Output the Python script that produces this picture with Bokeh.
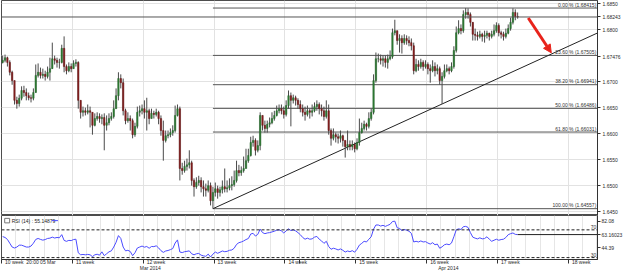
import numpy as np
from bokeh.plotting import figure
from bokeh.layouts import column
from bokeh.models import (Range1d, FixedTicker, Span, Arrow, NormalHead,
                          PrintfTickFormatter)
from bokeh.embed import file_html
from bokeh.resources import INLINE
from bokeh.core.properties import value

# ---------------- data (H4 candles) ----------------
first_open = 1.6737
close = [
    1.6741, 1.6746, 1.6737, 1.6718, 1.6702, 1.6664, 1.6658, 1.6668, 1.6683, 1.6679,
    1.6673, 1.6669, 1.6668, 1.6679, 1.6712, 1.6718, 1.6712, 1.6714, 1.6710, 1.6718,
    1.6725, 1.6744, 1.6741, 1.6737, 1.6737, 1.6764, 1.6729, 1.6721, 1.6729, 1.6725,
    1.6735, 1.6737, 1.6664, 1.6641, 1.6644, 1.6641, 1.6644, 1.6641, 1.6616, 1.6629,
    1.6633, 1.6629, 1.6631, 1.6616, 1.6621, 1.6629, 1.6633, 1.6648, 1.6673, 1.6706,
    1.6698, 1.6644, 1.6625, 1.6629, 1.6625, 1.6598, 1.6614, 1.6641, 1.6644, 1.6648,
    1.6641, 1.6644, 1.6629, 1.6639, 1.6637, 1.6641, 1.6629, 1.6606, 1.6587, 1.6596,
    1.6598, 1.6602, 1.6606, 1.6635, 1.6648, 1.6533, 1.6529, 1.6537, 1.6540, 1.6544,
    1.6510, 1.6498, 1.6506, 1.6510, 1.6498, 1.6494, 1.6491, 1.6500, 1.6471, 1.6487,
    1.6494, 1.6487, 1.6492, 1.6498, 1.6494, 1.6496, 1.6500, 1.6502, 1.6510, 1.6529,
    1.6525, 1.6529, 1.6533, 1.6548, 1.6558, 1.6583, 1.6587, 1.6568, 1.6577, 1.6635,
    1.6616, 1.6610, 1.6618, 1.6621, 1.6629, 1.6635, 1.6644, 1.6648, 1.6644, 1.6637,
    1.6654, 1.6673, 1.6664, 1.6669, 1.6664, 1.6656, 1.6648, 1.6641, 1.6637, 1.6644,
    1.6641, 1.6644, 1.6652, 1.6656, 1.6648, 1.6644, 1.6633, 1.6644, 1.6606, 1.6591,
    1.6598, 1.6594, 1.6591, 1.6596, 1.6587, 1.6575, 1.6579, 1.6575, 1.6579, 1.6571,
    1.6583, 1.6602, 1.6610, 1.6618, 1.6614, 1.6629, 1.6641, 1.6702, 1.6744, 1.6744,
    1.6741, 1.6744, 1.6737, 1.6744, 1.6748, 1.6794, 1.6798, 1.6779, 1.6783, 1.6775,
    1.6783, 1.6779, 1.6775, 1.6769, 1.6721, 1.6733, 1.6729, 1.6737, 1.6729, 1.6733,
    1.6725, 1.6721, 1.6729, 1.6721, 1.6725, 1.6702, 1.6710, 1.6721, 1.6725, 1.6721,
    1.6729, 1.6760, 1.6794, 1.6802, 1.6798, 1.6829, 1.6833, 1.6829, 1.6814, 1.6791,
    1.6789, 1.6787, 1.6791, 1.6787, 1.6789, 1.6793, 1.6787, 1.6791, 1.6798, 1.6808,
    1.6794, 1.6791, 1.6787, 1.6793, 1.6802, 1.6814, 1.6833, 1.6825, 1.68243,
]
high = [
    1.6750, 1.6752, 1.6748, 1.6741, 1.6721, 1.6702, 1.6671, 1.6675, 1.6691, 1.6692,
    1.6687, 1.6679, 1.6675, 1.6687, 1.6733, 1.6735, 1.6727, 1.6725, 1.6721, 1.6729,
    1.6746, 1.6775, 1.6750, 1.6746, 1.6744, 1.6771, 1.6787, 1.6733, 1.6737, 1.6735,
    1.6741, 1.6743, 1.6739, 1.6664, 1.6652, 1.6650, 1.6656, 1.6652, 1.6641, 1.6639,
    1.6641, 1.6639, 1.6637, 1.6639, 1.6635, 1.6639, 1.6641, 1.6664, 1.6687, 1.6718,
    1.6714, 1.6706, 1.6648, 1.6641, 1.6635, 1.6629, 1.6621, 1.6652, 1.6654, 1.6656,
    1.6664, 1.6669, 1.6648, 1.6648, 1.6644, 1.6648, 1.6644, 1.6635, 1.6625, 1.6606,
    1.6606, 1.6610, 1.6616, 1.6654, 1.6656, 1.6652, 1.6544, 1.6548, 1.6552, 1.6568,
    1.6548, 1.6514, 1.6516, 1.6519, 1.6516, 1.6510, 1.6504, 1.6510, 1.6506, 1.6498,
    1.6506, 1.6500, 1.6498, 1.6510, 1.6533, 1.6510, 1.6514, 1.6518, 1.6529, 1.6548,
    1.6540, 1.6537, 1.6556, 1.6571, 1.6571, 1.6594, 1.6596, 1.6591, 1.6587, 1.6641,
    1.6635, 1.6625, 1.6625, 1.6631, 1.6641, 1.6644, 1.6654, 1.6656, 1.6656, 1.6652,
    1.6664, 1.6683, 1.6679, 1.6675, 1.6673, 1.6668, 1.6664, 1.6656, 1.6652, 1.6654,
    1.6648, 1.6656, 1.6660, 1.6664, 1.6660, 1.6656, 1.6652, 1.6664, 1.6656, 1.6610,
    1.6610, 1.6602, 1.6600, 1.6606, 1.6598, 1.6587, 1.6606, 1.6587, 1.6587, 1.6583,
    1.6591, 1.6629, 1.6621, 1.6625, 1.6621, 1.6641, 1.6648, 1.6714, 1.6756, 1.6754,
    1.6752, 1.6750, 1.6750, 1.6752, 1.6760, 1.6802, 1.6819, 1.6798, 1.6791, 1.6789,
    1.6791, 1.6789, 1.6787, 1.6783, 1.6775, 1.6744, 1.6741, 1.6744, 1.6741, 1.6741,
    1.6737, 1.6733, 1.6741, 1.6737, 1.6733, 1.6729, 1.6718, 1.6733, 1.6733, 1.6729,
    1.6737, 1.6768, 1.6806, 1.6818, 1.6810, 1.6837, 1.68415, 1.6841, 1.6833, 1.6814,
    1.6802, 1.6796, 1.6798, 1.6794, 1.6798, 1.6798, 1.6794, 1.6798, 1.6810, 1.6814,
    1.6812, 1.6798, 1.6796, 1.6802, 1.6810, 1.6823, 1.6841, 1.6839, 1.6833,
]
low = [
    1.6735, 1.6737, 1.6729, 1.6712, 1.6694, 1.6656, 1.6648, 1.6652, 1.6664, 1.6671,
    1.6664, 1.6664, 1.6660, 1.6664, 1.6679, 1.6708, 1.6706, 1.6706, 1.6702, 1.6706,
    1.6702, 1.6725, 1.6733, 1.6727, 1.6725, 1.6735, 1.6718, 1.6714, 1.6718, 1.6718,
    1.6727, 1.6729, 1.6648, 1.6629, 1.6633, 1.6635, 1.6637, 1.6612, 1.6598, 1.6614,
    1.6625, 1.6621, 1.6618, 1.6568, 1.6606, 1.6616, 1.6625, 1.6629, 1.6648, 1.6664,
    1.6687, 1.6635, 1.6618, 1.6621, 1.6606, 1.6591, 1.6594, 1.6610, 1.6633, 1.6637,
    1.6629, 1.6606, 1.6618, 1.6629, 1.6629, 1.6633, 1.6618, 1.6596, 1.6548, 1.6583,
    1.6591, 1.6593, 1.6596, 1.6602, 1.6633, 1.6510, 1.6521, 1.6525, 1.6529, 1.6533,
    1.6500, 1.6479, 1.6494, 1.6500, 1.6487, 1.6479, 1.6479, 1.6487, 1.6462, 1.64557,
    1.6479, 1.6475, 1.6479, 1.6485, 1.6487, 1.6487, 1.6491, 1.6491, 1.6498, 1.6506,
    1.6518, 1.6519, 1.6525, 1.6533, 1.6544, 1.6556, 1.6575, 1.6558, 1.6564, 1.6568,
    1.6606, 1.6602, 1.6602, 1.6612, 1.6618, 1.6625, 1.6633, 1.6639, 1.6637, 1.6629,
    1.6633, 1.6648, 1.6614, 1.6658, 1.6654, 1.6648, 1.6641, 1.6633, 1.6625, 1.6633,
    1.6629, 1.6633, 1.6641, 1.6644, 1.6637, 1.6633, 1.6625, 1.6629, 1.6598, 1.6577,
    1.6587, 1.6583, 1.6581, 1.6583, 1.6575, 1.6554, 1.6568, 1.6568, 1.6568, 1.6564,
    1.6568, 1.6577, 1.6600, 1.6606, 1.6606, 1.6610, 1.6625, 1.6637, 1.6698, 1.6737,
    1.6733, 1.6729, 1.6727, 1.6725, 1.6741, 1.6744, 1.6789, 1.6771, 1.6756, 1.6754,
    1.6771, 1.6771, 1.6768, 1.6760, 1.6714, 1.6718, 1.6721, 1.6725, 1.6721, 1.6725,
    1.6714, 1.6698, 1.6718, 1.6710, 1.6714, 1.6694, 1.6657, 1.6706, 1.6718, 1.6714,
    1.6718, 1.6725, 1.6756, 1.6791, 1.6791, 1.6794, 1.6821, 1.6821, 1.6806, 1.6779,
    1.6779, 1.6779, 1.6783, 1.6777, 1.6775, 1.6783, 1.6779, 1.6783, 1.6787, 1.6794,
    1.6787, 1.6783, 1.6779, 1.6783, 1.6791, 1.6798, 1.6810, 1.6818, 1.6821,
]
rsi = [
    60.3, 59.0, 56.2, 50.7, 45.2, 43.8, 45.2, 47.9, 47.9, 46.6,
    45.2, 45.2, 46.6, 50.7, 56.2, 57.6, 56.2, 55.15, 56.0, 57.6,
    58.0, 59.5, 58.2, 59.0, 58.6, 63.1, 54.8, 53.4, 54.8, 54.5,
    56.0, 56.5, 36.9, 34.1, 34.5, 34.0, 34.6, 34.0, 31.4, 34.0,
    34.8, 33.5, 38.3, 32.8, 35.5, 38.3, 39.7, 45.2, 52.1, 61.7,
    57.6, 45.2, 39.7, 40.5, 38.8, 32.8, 36.9, 43.8, 45.2, 46.6,
    45.0, 46.0, 43.5, 46.0, 45.8, 47.0, 44.0, 40.0, 37.5, 39.5,
    40.2, 41.5, 43.0, 51.0, 55.5, 38.0, 37.2, 38.5, 39.0, 39.7,
    35.5, 34.0, 35.5, 36.0, 33.5, 32.5, 31.8, 35.0, 30.8, 35.0,
    38.0, 36.2, 37.8, 39.5, 38.5, 39.0, 40.5, 41.0, 43.5, 49.0,
    51.5, 52.5, 54.0, 56.0, 57.5, 64.0, 65.0, 61.0, 63.5, 71.0,
    66.0, 64.5, 65.5, 66.0, 67.0, 68.0, 69.5, 70.0, 68.5, 65.5,
    68.5, 71.5, 69.0, 70.0, 68.5, 66.0, 63.0, 59.0, 56.5, 58.0,
    56.5, 57.0, 59.5, 60.5, 56.5, 54.0, 50.5, 53.5, 46.0, 42.0,
    43.5, 42.5, 41.0, 42.5, 40.5, 38.0, 39.5, 38.5, 40.0, 37.8,
    42.0, 48.0, 50.5, 53.5, 52.5, 56.5, 60.0, 71.0, 77.0, 77.0,
    75.5, 76.5, 75.0, 76.5, 78.0, 82.0, 82.5, 73.0, 72.0, 69.0,
    70.5, 69.5, 68.0, 65.0, 52.5, 53.5, 52.5, 54.0, 52.5, 53.0,
    51.0, 49.5, 51.5, 48.5, 49.5, 43.5, 45.5, 48.5, 49.5, 48.5,
    51.0, 60.0, 70.0, 71.5, 70.5, 74.5, 75.0, 73.5, 66.0, 59.5,
    58.0, 57.0, 58.5, 57.0, 57.5, 60.0, 56.5, 53.5, 55.0, 56.5,
    55.0, 56.0, 56.5, 59.0, 63.0, 64.5, 65.5, 63.5, 63.16,
]
week_labels = ["10 week", "11 week", "12 week", "13 week", "14 week",
               "15 week", "16 week", "17 week", "18 week"]
month_labels = ["Mar 2014", "Apr 2014"]
march_candles = 126
candles_per_week = 30
candles_per_day = 6
price_ticks = [1.645, 1.650, 1.655, 1.660, 1.665, 1.670, 1.675, 1.680, 1.685]
hidden_price_tick = 1.675          # covered by the marker box in the original
fib_pcts = [0.0, 23.6, 38.2, 50.0, 61.8, 100.0]
last_price = 1.68243
marker_price = 1.67476
trend_anchor_idx = [89, 186]
rsi_ticks = [44.39, 82.08]
rsi_levels = [70, 30]
rsi_now = 63.16023
rsi_cross = 55.14879
cross_idx = 17
cross_label = "20:00 05 Mar"

# ---------------- derived ----------------
FONTNAME = "Liberation Sans"
FONT = value(FONTNAME)
FS = "5px"
close_a = np.array(close)
open_a = np.concatenate([[first_open], close_a[:-1]])
high_a = np.maximum(np.array(high), np.maximum(open_a, close_a))
low_a = np.minimum(np.array(low), np.minimum(open_a, close_a))
N = len(close_a)
idx = np.arange(N)

X0, X1 = -0.5, 251.8
PY0, PY1 = 1.64426, 1.6856
RY0, RY1 = 27.24, 90.69
week_bounds = [X0 + candles_per_week * k for k in range(len(week_labels))]
day_bounds = [float(v) for v in np.arange(X0, X1, candles_per_day)]
month_edges = [X0, X0 + march_candles, X1]


def style_axis(ax):
    ax.major_label_text_font_size = FS
    ax.major_label_text_font = FONTNAME
    ax.major_label_text_color = "#2a2a2a"
    ax.major_tick_in = 0
    ax.minor_tick_in = 0
    ax.minor_tick_out = 0
    ax.axis_line_color = "#333333"
    ax.major_tick_line_color = "#333333"
    ax.minor_tick_line_color = "#333333"


# ---------------- main price panel ----------------
p = figure(width=625, height=215, x_range=Range1d(X0, X1), y_range=Range1d(PY0, PY1),
           x_axis_location=None, y_axis_location="right", toolbar_location=None,
           output_backend="svg", min_border_left=1, min_border_right=26,
           min_border_top=0, min_border_bottom=0, outline_line_color="#4d4d4d",
           background_fill_color="white", border_fill_color="white")
p.xgrid.ticker = FixedTicker(ticks=week_bounds)
p.xgrid.grid_line_color = "#e2e2e2"
p.ygrid.ticker = FixedTicker(ticks=price_ticks)
p.ygrid.grid_line_color = "#e2e2e2"

axis_ticks = [t for t in price_ticks if t != hidden_price_tick] + [last_price, marker_price]
ya = p.yaxis[0]
style_axis(ya)
ya.ticker = FixedTicker(ticks=axis_ticks)
ya.formatter = PrintfTickFormatter(format="%.4f")
ya.major_label_overrides = {last_price: f"{last_price:.5f}", marker_price: f"{marker_price:.5f}"}
ya.major_tick_out = 3
ya.major_label_standoff = 2

# current price line
p.add_layout(Span(location=last_price, dimension="width", line_color="#555555", line_width=1))

# fibonacci retracement
lo_i = int(np.argmin(low_a))
hi_i = int(np.argmax(high_a))
swing_low = low_a[lo_i]
swing_high = high_a[hi_i]
rng = swing_high - swing_low
levels = [swing_high - f / 100.0 * rng for f in fib_pcts]
p.segment(x0=[lo_i] * len(levels), y0=levels, x1=[X1] * len(levels), y1=levels,
          line_color="#555555", line_width=1)
p.text(x=[X1 - 0.5] * len(levels), y=levels,
       text=[f"{f:.2f} % ({lv:.5f})" for f, lv in zip(fib_pcts, levels)],
       text_align="right", text_baseline="bottom", text_font_size=FS,
       text_font=FONT, text_color="#333333", y_offset=-0.5)

# trendline
ta, tb = trend_anchor_idx
slope = (low_a[tb] - low_a[ta]) / (tb - ta)
p.line([ta, X1], [low_a[ta], low_a[ta] + slope * (X1 - ta)], line_color="#222222", line_width=1)

# candles
bull = close_a >= open_a
p.segment(idx, high_a, idx, low_a, line_color="#4a4a4a", line_width=1)
p.vbar(x=idx[bull], width=0.6, top=close_a[bull], bottom=open_a[bull],
       fill_color="#2f7f34", line_color="#24622a", line_width=0.5)
p.vbar(x=idx[~bull], width=0.6, top=open_a[~bull], bottom=close_a[~bull],
       fill_color="#8a2020", line_color="#621616", line_width=0.5)

# red arrow toward trendline / 23.6% intersection
x_int = ta + (levels[1] - low_a[ta]) / slope
RED = "#e8231b"
p.add_layout(Arrow(end=NormalHead(size=8, fill_color=RED, line_color=RED),
                   x_start=N - 1 + 4.5, y_start=last_price - 0.0002,
                   x_end=x_int + 1.2, y_end=levels[1] + 0.0005,
                   line_color=RED, line_width=3))

# ---------------- RSI panel ----------------
r = figure(width=625, height=58, x_range=p.x_range, y_range=Range1d(RY0, RY1),
           x_axis_location="below", y_axis_location="right", toolbar_location=None,
           output_backend="svg", min_border_left=1, min_border_right=26,
           min_border_top=0, min_border_bottom=11, outline_line_color="#4d4d4d",
           background_fill_color="white", border_fill_color="white")
r.ygrid.visible = False
r.xgrid.ticker = FixedTicker(ticks=day_bounds)
r.xgrid.grid_line_color = "#e6e6e6"

# time axis: labels sit right of the week ticks (minor ticks mark the week starts)
label_shift = 5.4
week_centers = [wb + label_shift for wb in week_bounds]
month_centers = [(month_edges[k] + month_edges[k + 1]) / 2 for k in range(len(month_labels))]
xa = r.xaxis[0]
style_axis(xa)
xa.ticker = FixedTicker(ticks=week_centers + [cross_idx - 0.8] + month_centers,
                        minor_ticks=week_bounds + [month_edges[1]])
overrides = {c: t for c, t in zip(week_centers, week_labels)}
overrides[cross_idx - 0.8] = cross_label
for c, t in zip(month_centers, month_labels):
    overrides[c] = "\n" + t
xa.major_label_overrides = overrides
xa.major_tick_out = 0
xa.minor_tick_out = 4
xa.major_label_standoff = -5
xa.major_label_text_line_height = 1.0

ra = r.yaxis[0]
style_axis(ra)
ra.ticker = FixedTicker(ticks=rsi_ticks + [rsi_now])
ra.formatter = PrintfTickFormatter(format="%.2f")
ra.major_label_overrides = {rsi_now: f"{rsi_now:.5f}"}
ra.major_tick_out = 3
ra.major_label_standoff = 1

for lv in rsi_levels:
    r.add_layout(Span(location=lv, dimension="width", line_color="#222222",
                      line_dash="3 2", line_width=1))
r.text(x=[X1 - 0.5] * len(rsi_levels), y=rsi_levels, text=[str(v) for v in rsi_levels],
       text_align="right", text_baseline="bottom", text_font_size=FS, text_font=FONT,
       text_color="#333333", y_offset=-0.5)
r.line(idx, rsi, line_color="#4b4bff", line_width=1)
r.segment(x0=[N - 1], y0=[rsi_now], x1=[X1], y1=[rsi_now], line_color="#222222", line_width=1)

# legend
r.rect(x=[1.9], y=[83.3], width=2.1, height=6.5, fill_color="white", line_color="#777777")
r.text(x=[3.8], y=[83.3], text=[f"RSI (14) : {rsi_cross:.5f}"], text_baseline="middle",
       text_align="left", text_font_size=FS, text_font=FONT, text_color="#222222")
r.segment(x0=[20.8], y0=[83.3], x1=[23.4], y1=[83.3], line_color="#4b4bff", line_width=1)

layout = column(p, r, spacing=0)
open("out.html", "w").write(file_html(layout, INLINE))
